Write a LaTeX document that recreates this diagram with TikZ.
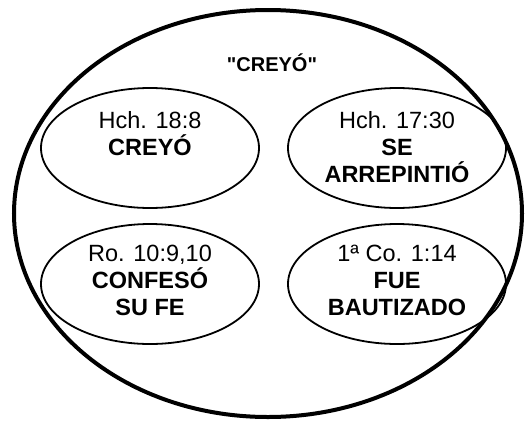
\documentclass[tikz,border=0pt]{standalone}
\usepackage{fontspec}
\setmainfont{Liberation Sans}
\usepackage{tikz}
\usetikzlibrary{shapes,arrows}
\tikzstyle{outer} = [ellipse, draw, line width=4pt, inner sep=0pt,
    minimum width=508pt, minimum height=407pt]
\tikzstyle{oval} = [ellipse, draw, line width=1.8pt, inner sep=0pt,
    minimum width=218pt, minimum height=120pt]
\tikzstyle{verse} = [anchor=north, align=center, inner sep=0pt,
    font=\fontsize{23.5}{27}\selectfont]
\tikzstyle{title} = [anchor=base, inner sep=0pt,
    font=\bfseries\fontsize{20}{24}\selectfont]

\begin{document}
\begin{tikzpicture}[x=1pt, y=1pt]
    \useasboundingbox (0,0) rectangle (525,-421);
    % Nodes
    \node [outer] (all) at (268,-213.5) {};
    \node [title] (head) at (272,-71) {\textquotedbl CREYÓ\textquotedbl};
    \node [oval] (creyo) at (150,-148) {};
    \node [oval] (arrep) at (397,-148) {};
    \node [oval] (confes) at (150,-284) {};
    \node [oval] (bautiz) at (397,-284) {};
    % Texts
    \node [verse] (creyotxt) at (creyo.north |- 0,-111) {Hch. 18:8\\ \textbf{CREYÓ}};
    \node [verse] (arreptxt) at (arrep.north |- 0,-111) {Hch. 17:30\\ \textbf{SE}\\ \textbf{ARREPINTIÓ}};
    \node [verse] (confestxt) at (confes.north |- 0,-245) {Ro. 10:9,10\\ \textbf{CONFESÓ}\\ \textbf{SU FE}};
    \node [verse] (bautiztxt) at (bautiz.north |- 0,-245) {1ª Co. 1:14\\ \textbf{FUE}\\ \textbf{BAUTIZADO}};
\end{tikzpicture}
\end{document}
